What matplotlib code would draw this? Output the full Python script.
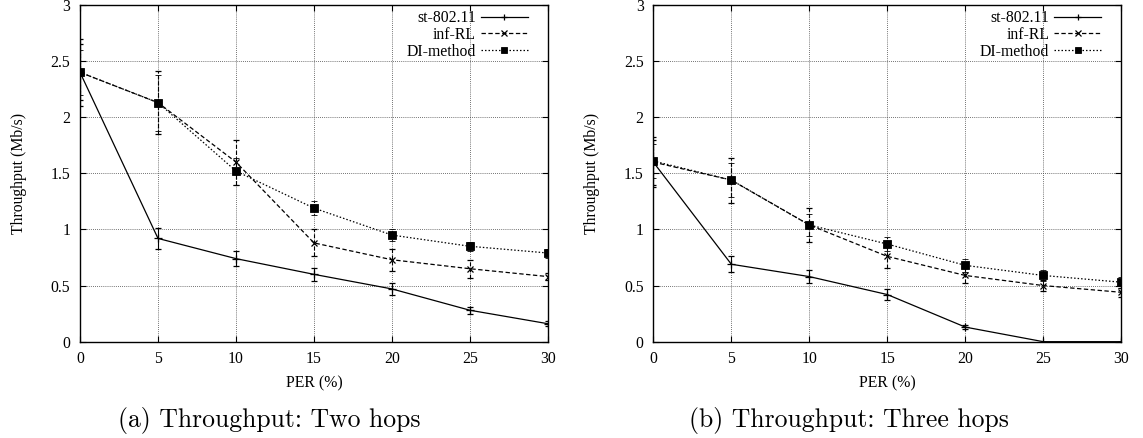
import matplotlib
matplotlib.use("Agg")
import matplotlib.pyplot as plt

# Packet error rate (%) on the x axis
per = [0, 5, 10, 15, 20, 25, 30]

# (a) Two hops: mean throughput (Mb/s) and error-bar half widths
two_st = [2.40, 0.92, 0.74, 0.60, 0.47, 0.28, 0.16]
two_st_err = [0.30, 0.09, 0.07, 0.06, 0.05, 0.03, 0.02]
two_inf = [2.40, 2.13, 1.60, 0.88, 0.73, 0.65, 0.58]
two_inf_err = [0.25, 0.28, 0.20, 0.12, 0.10, 0.08, 0.03]
two_di = [2.40, 2.13, 1.52, 1.19, 0.95, 0.85, 0.79]
two_di_err = [0.20, 0.25, 0.12, 0.06, 0.05, 0.04, 0.04]

# (b) Three hops
three_st = [1.60, 0.69, 0.58, 0.42, 0.13, 0.00, 0.00]
three_st_err = [0.20, 0.07, 0.06, 0.05, 0.02, 0.00, 0.00]
three_inf = [1.60, 1.44, 1.04, 0.76, 0.59, 0.50, 0.44]
three_inf_err = [0.22, 0.20, 0.15, 0.10, 0.07, 0.05, 0.04]
three_di = [1.61, 1.44, 1.04, 0.87, 0.68, 0.59, 0.53]
three_di_err = [0.15, 0.15, 0.10, 0.06, 0.06, 0.05, 0.05]

series_names = ["st-802.11", "inf-RL", "DI-method"]
xticks = [0, 5, 10, 15, 20, 25, 30]
yticks = [0, 0.5, 1, 1.5, 2, 2.5, 3]
captions = ["(a) Throughput: Two hops", "(b) Throughput: Three hops"]

SERIF = ["Liberation Serif", "DejaVu Serif"]
FS = 11.3

plt.rcParams["font.family"] = SERIF
plt.rcParams["font.size"] = FS

fig = plt.figure(figsize=(11.43, 4.38), dpi=100)

styles = [
    dict(marker="+", ms=6, mew=0.9, dashes=None),
    dict(marker="x", ms=4, mew=0.9, dashes=(3.5, 2.0)),
    dict(marker="s", ms=6, mew=0.6, dashes=(1.2, 1.6)),
]

# axes left edge, caption centre (figure fraction), series data
panels = [
    (0.0700, 0.236, [(two_st, two_st_err), (two_inf, two_inf_err), (two_di, two_di_err)]),
    (0.5716, 0.743, [(three_st, three_st_err), (three_inf, three_inf_err), (three_di, three_di_err)]),
]

for idx, (left, cap_x, data) in enumerate(panels):
    ax = fig.add_axes([left, 0.2199, 0.4094, 0.7687])
    handles = []
    for (vals, errs), st, name in zip(data, styles, series_names):
        eb = ax.errorbar(per, vals, yerr=errs, color="black", lw=0.9,
                         elinewidth=0.8, capsize=2.2, capthick=0.8,
                         marker=st["marker"], ms=st["ms"], mew=st["mew"],
                         mfc="black", mec="black", label=name, zorder=3)
        line = eb.lines[0]
        if st["dashes"] is not None:
            line.set_dashes(st["dashes"])
            for col in eb.lines[2]:
                col.set_linestyle((0, st["dashes"]))
        handles.append(line)

    ax.set_xlim(0, 30)
    ax.set_ylim(0, 3)
    ax.set_xticks(xticks)
    ax.set_yticks(yticks)
    ax.set_yticklabels(["0", "0.5", "1", "1.5", "2", "2.5", "3"])
    ax.tick_params(direction="in", length=4.5, width=0.8, top=True, right=True,
                   labelsize=FS, pad=7)
    ax.grid(True, color="#444444", lw=0.6, ls=(0, (1, 1.5)))
    for sp in ax.spines.values():
        sp.set_linewidth(1.0)
        sp.set_color("black")
    ax.set_ylabel("Throughput (Mb/s)", fontsize=FS, labelpad=17)
    ax.set_xlabel("PER (%)", fontsize=FS, labelpad=6)

    leg = ax.legend(handles, series_names, loc="upper right",
                    bbox_to_anchor=(0.972, 1.006), frameon=False,
                    markerfirst=False, handlelength=3.0, handletextpad=0.3,
                    labelspacing=0.05, borderaxespad=0.05, fontsize=FS)
    for lh in leg.get_lines():
        lh.set_markersize(4)

    fig.text(cap_x, 1 - 420 / 438, captions[idx], ha="center", va="center",
             fontsize=18.5, family=["cmr10", "DejaVu Serif"])

fig.savefig("out.png", dpi=100)
